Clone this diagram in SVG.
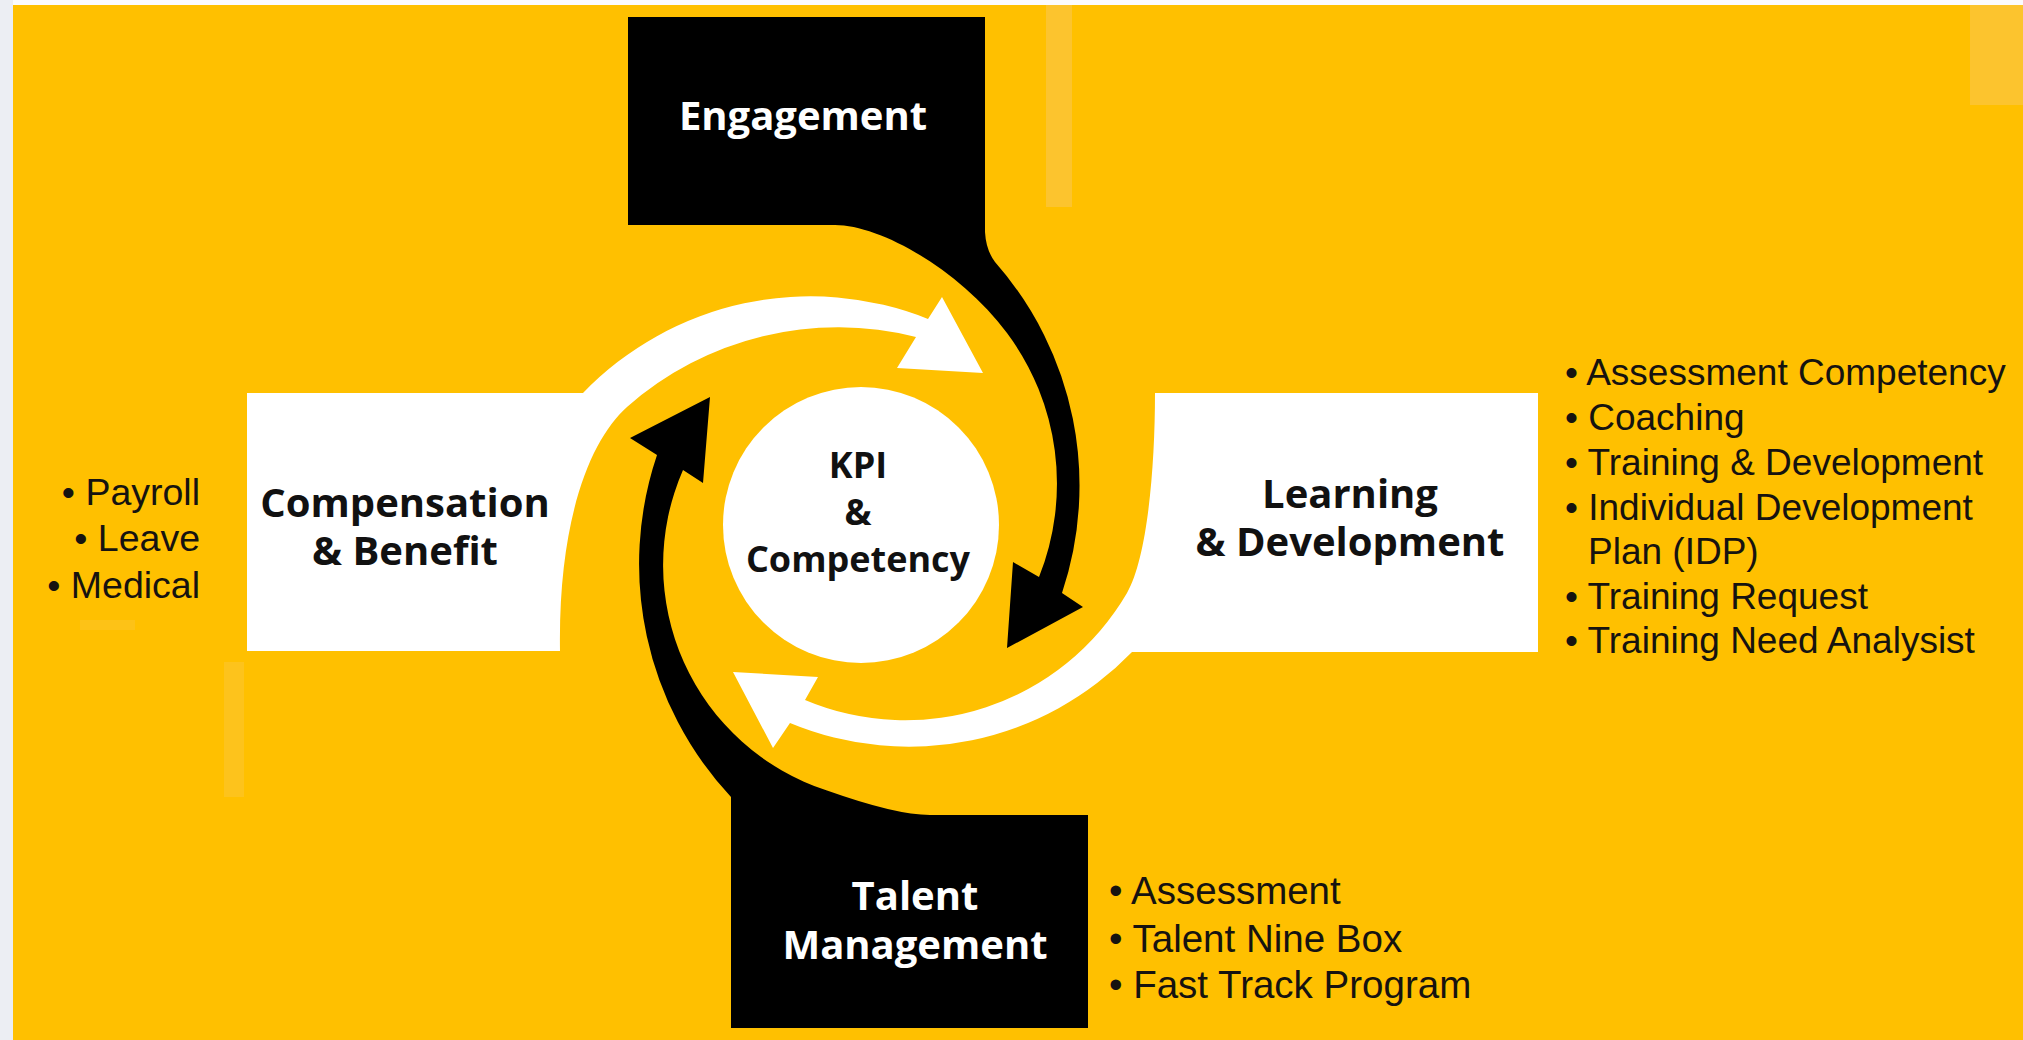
<svg xmlns="http://www.w3.org/2000/svg" width="2023" height="1040" viewBox="0 0 2023 1040">
<style>
.blk{fill:#000}
.wht{fill:#fff}
.lbl{font-family:"Open Sans","Liberation Sans",sans-serif;font-weight:700;font-size:40px;text-anchor:middle}
.kpi{font-family:"Open Sans","Liberation Sans",sans-serif;font-weight:700;font-size:36px;text-anchor:middle;fill:#111}
.dark{fill:#111}
.light{fill:#fff}
.item{font-family:"Liberation Sans",Arial,sans-serif;fill:#161310}
.patch{fill:#fcc42e}
</style>
<rect x="0" y="0" width="2023" height="1040" fill="#fbfbfd"/>
<rect x="0" y="0" width="13" height="1040" fill="#eceef3"/>
<rect x="13" y="5" width="2010" height="1035" fill="#ffc000"/>
<rect class="patch" x="1046" y="5" width="26" height="202"/>
<rect class="patch" x="1970" y="5" width="53" height="100"/>
<rect class="patch" x="224" y="662" width="20" height="135" opacity="0.6"/>
<rect class="patch" x="80" y="620" width="55" height="10" opacity="0.5"/>

<g id="connectors">
  <path id="arrow-engagement" class="blk" d="M 835 225 L 835 200 L 985 200 L 985 232 Q 986 250 995 262 A 338 338 0 0 1 1062 593 L 1083 607 L 1007 648 L 1013 562 L 1039 577 A 252 252 0 0 0 1007 333 C 959 269 880 225 835 225 Z"/>
  <path id="arrow-compensation" class="wht" d="M 540 393 L 583 393 A 316 316 0 0 1 928 319 L 942 297 L 983 373 L 897 368 L 916 337 A 319 319 0 0 0 627 407 C 590 440 558 520 560 651 L 540 651 Z"/>
  <path id="arrow-talent" class="blk" d="M 657 455 A 341 341 0 0 0 731 797 L 731 840 L 930 840 L 930 815 Q 896 815 827 790.5 A 237 237 0 0 1 683 470 L 703 483 L 710 397 L 630 438 Z"/>
  <path id="arrow-learning" class="wht" d="M 1180 393 L 1155 393 C 1155 470 1147 558 1127 593 A 257 257 0 0 1 805 700 L 818 677 L 733 672 L 773 748 L 790 723 A 310 310 0 0 0 1132 652 L 1180 652 Z"/>
</g>

<g id="node-engagement">
  <rect class="blk" x="628" y="17" width="357" height="208"/>
  <text class="lbl light" x="803" y="130">Engagement</text>
</g>

<g id="node-compensation">
  <rect class="wht" x="247" y="393" width="300" height="258"/>
  <text class="lbl dark" x="405" y="517">Compensation</text>
  <text class="lbl dark" x="405" y="565">&amp; Benefit</text>
</g>

<g id="node-learning">
  <rect class="wht" x="1160" y="393" width="378" height="259"/>
  <text class="lbl dark" x="1350" y="508">Learning</text>
  <text class="lbl dark" x="1350" y="556">&amp; Development</text>
</g>

<g id="node-talent">
  <rect class="blk" x="731" y="815" width="357" height="213"/>
  <text class="lbl light" x="915" y="910">Talent</text>
  <text class="lbl light" x="915" y="959">Management</text>
</g>

<g id="node-kpi">
  <circle class="wht" cx="861" cy="525" r="138"/>
  <text class="kpi" x="858" y="478">KPI</text>
  <text class="kpi" x="858" y="525">&amp;</text>
  <text class="kpi" x="858" y="572">Competency</text>
</g>

<g id="list-compensation" class="item" font-size="37.5" text-anchor="end">
  <text x="200" y="505">• Payroll</text>
  <text x="200" y="551">• Leave</text>
  <text x="200" y="598">• Medical</text>
</g>

<g id="list-learning" class="item" font-size="37">
  <text x="1565" y="385">• Assessment Competency</text>
  <text x="1565" y="430">• Coaching</text>
  <text x="1565" y="475">• Training &amp; Development</text>
  <text x="1565" y="520">• Individual Development</text>
  <text x="1588" y="564">Plan (IDP)</text>
  <text x="1565" y="609">• Training Request</text>
  <text x="1565" y="653">• Training Need Analysist</text>
</g>

<g id="list-talent" class="item" font-size="38.5">
  <text x="1109" y="904">• Assessment</text>
  <text x="1109" y="952">• Talent Nine Box</text>
  <text x="1109" y="998">• Fast Track Program</text>
</g>
</svg>
